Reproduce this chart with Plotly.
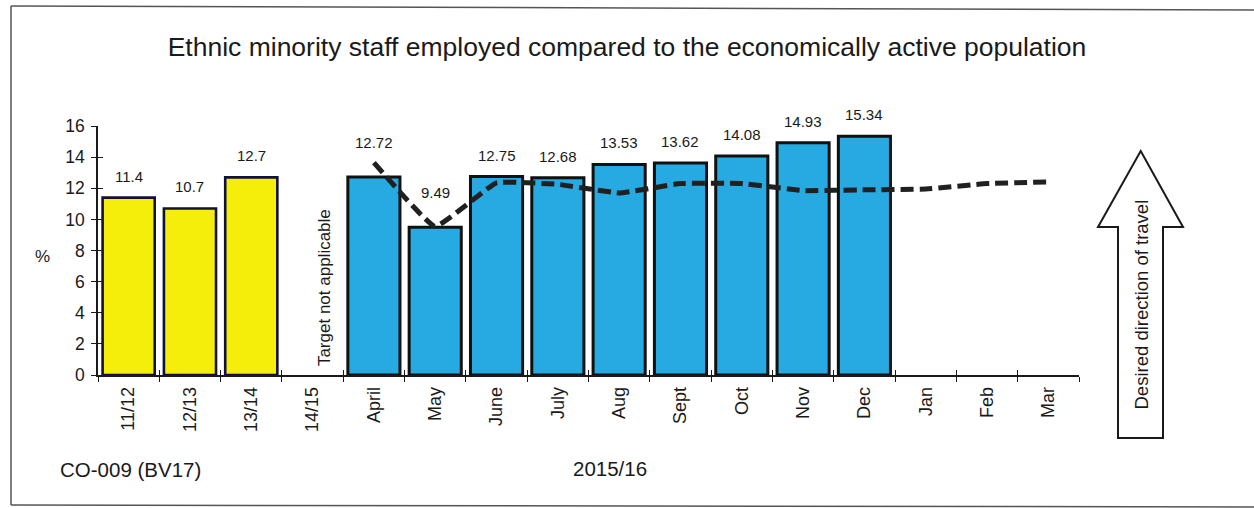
import plotly.graph_objects as go

# ---- data ----
categories = ["11/12", "12/13", "13/14", "14/15", "April", "May", "June", "July",
              "Aug", "Sept", "Oct", "Nov", "Dec", "Jan", "Feb", "Mar"]
annual_cats = ["11/12", "12/13", "13/14"]
annual_vals = [11.4, 10.7, 12.7]
month_cats = ["April", "May", "June", "July", "Aug", "Sept", "Oct", "Nov", "Dec"]
month_vals = [12.72, 9.49, 12.75, 12.68, 13.53, 13.62, 14.08, 14.93, 15.34]
target_cats = ["April", "May", "June", "July", "Aug", "Sept", "Oct", "Nov", "Dec",
               "Jan", "Feb", "Mar"]
target_vals = [13.65, 9.55, 12.35, 12.25, 11.7, 12.3, 12.3, 11.85, 11.9, 11.95, 12.3, 12.4]
y_ticks = [0, 2, 4, 6, 8, 10, 12, 14, 16]

# ---- page geometry (pixels) ----
W, H = 1254, 508
L, R, T, B = 98, 175, 126, 133
PW, PH = W - L - R, H - T - B


def px(x):
    return (x - L) / PW


def py(y):
    return (H - B - y) / PH


FONT = "Liberation Sans, Arial, sans-serif"
INK = "#1a1a1a"
YELLOW = "#F5EE0A"
BLUE = "#27A9E1"

fig = go.Figure()

fig.add_trace(go.Bar(
    x=annual_cats, y=annual_vals, marker=dict(color=YELLOW, line=dict(color="#10103a", width=2.6)),
    showlegend=False, hoverinfo="skip"))
fig.add_trace(go.Bar(
    x=month_cats, y=month_vals, marker=dict(color=BLUE, line=dict(color="#111111", width=3)),
    showlegend=False, hoverinfo="skip"))
fig.add_trace(go.Scatter(
    x=target_cats, y=target_vals, mode="lines",
    line=dict(color="#202020", width=5, dash="13px,6px", shape="spline", smoothing=0.3),
    showlegend=False, hoverinfo="skip"))

# invisible trace carrying the inner half of the crossing tick marks
fig.add_trace(go.Scatter(x=categories, y=[None] * len(categories), xaxis="x2", yaxis="y2",
                         mode="lines", showlegend=False, hoverinfo="skip"))

# value labels above the bars (April/May raised clear of the target line)
raised = {"April": 24, "May": 24}
for c, v in list(zip(annual_cats, annual_vals)) + list(zip(month_cats, month_vals)):
    fig.add_annotation(x=c, y=v, text=f"{v:g}" if c in annual_cats else f"{v:.2f}",
                       showarrow=False, xanchor="center", yanchor="bottom",
                       yshift=raised.get(c, 11),
                       font=dict(family=FONT, size=15, color=INK))

fig.add_annotation(x="14/15", y=0, text="Target not applicable", textangle=-90,
                   showarrow=False, xanchor="center", yanchor="bottom", xshift=12, yshift=7,
                   font=dict(family=FONT, size=17, color=INK))


def note(x, y, text, size, angle=0):
    fig.add_annotation(xref="paper", yref="paper", x=px(x), y=py(y), text=text,
                       textangle=angle, showarrow=False, xanchor="center", yanchor="middle",
                       font=dict(family=FONT, size=size, color=INK))


# side texts
note(42, 256, "%", 17)
note(130, 469, "CO-009 (BV17)", 20.5)
note(610, 468, "2015/16", 20.5)

# "desired direction" arrow
arrow = [(1140.7, 151), (1183, 227), (1163, 227), (1163, 438), (1118, 438), (1118, 227),
         (1098, 227)]
path = "M " + " L ".join(f"{px(x):.5f},{py(y):.5f}" for x, y in arrow) + " Z"
fig.add_shape(type="path", xref="paper", yref="paper", path=path, layer="below",
              line=dict(color=INK, width=2), fillcolor="white")
note(1140.5, 305, "Desired direction of travel", 18.5, angle=-90)

# outer frame
for (x0, y0, x1, y1) in [(11, 6, 1254, 10), (11, 6, 11, 505), (11, 505, 1254, 507)]:
    fig.add_shape(type="line", xref="paper", yref="paper", x0=px(x0), y0=py(y0),
                  x1=px(x1), y1=py(y1), line=dict(color="#555555", width=1.5))

axis_common = dict(showgrid=False, zeroline=False, linecolor=INK, tickcolor=INK)

fig.update_layout(
    width=W, height=H, margin=dict(l=L, r=R, t=T, b=B),
    paper_bgcolor="white", plot_bgcolor="white",
    barmode="overlay", bargap=0.15,
    title=dict(text="Ethnic minority staff employed compared to the economically active population",
               x=0.5, xref="container", xanchor="center", y=1 - 47 / H, yref="container",
               yanchor="middle", font=dict(family=FONT, size=26.5, color=INK)),
    xaxis=dict(type="category", categoryorder="array", categoryarray=categories,
               range=[-0.5, len(categories) - 0.5], tickson="boundaries",
               ticks="outside", ticklen=5, tickwidth=1.3, showline=True, linewidth=1.5,
               tickangle=-90, ticklabelstandoff=3,
               tickfont=dict(family=FONT, size=18, color=INK), **axis_common),
    yaxis=dict(range=[0, 16], tickvals=y_ticks, ticks="outside", ticklen=5, tickwidth=1.3,
               showline=True, linewidth=1.5, ticklabelstandoff=3,
               tickfont=dict(family=FONT, size=17.5, color=INK), **axis_common),
    xaxis2=dict(type="category", categoryorder="array", categoryarray=categories,
                range=[-0.5, len(categories) - 0.5], tickson="boundaries", overlaying="x",
                ticks="inside", ticklen=5, tickwidth=1.3, showticklabels=False,
                showline=False, **axis_common),
    yaxis2=dict(range=[0, 16], tickvals=y_ticks, overlaying="y", side="left",
                ticks="inside", ticklen=5, tickwidth=1.3, showticklabels=False,
                showline=False, **axis_common),
)

fig.write_html("out.html")
